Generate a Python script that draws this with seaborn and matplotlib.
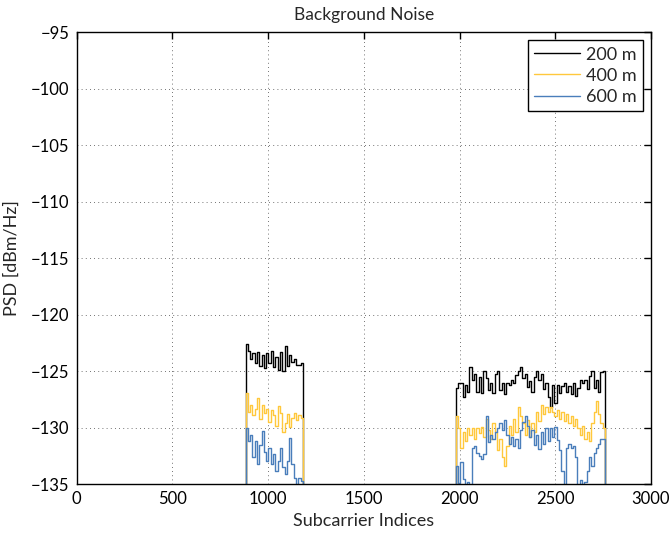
import numpy as np
import pandas as pd
import matplotlib
matplotlib.use("Agg")
import matplotlib.pyplot as plt
import seaborn as sns

# Subcarrier bands (start index, step between plotted PSD bins)
band_starts = [882, 1980]
step = 12
floor_db = -150.0

labels = ["200 m", "400 m", "600 m"]
colors = ["#000000", "#FFC83C", "#4A7EBB"]

# PSD [dBm/Hz] per bin
psd_200_band1 = [-122.6, -123.2, -123.9, -123.4, -124.3, -123.3, -124.5, -123.6, -124.7,
                 -123.4, -124.3, -123.2, -124.6, -123.7, -124.9, -123.3, -125.0, -122.8,
                 -124.5, -123.6, -124.2, -123.9, -124.4, -124.4, -124.3]
psd_400_band1 = [-126.9, -128.6, -128.0, -128.9, -128.3, -127.4, -129.2, -128.0, -128.7,
                 -128.3, -129.5, -128.4, -128.9, -129.8, -128.1, -128.7, -130.4, -129.6,
                 -128.8, -129.9, -129.1, -128.7, -129.3, -128.9, -129.1]
psd_600_band1 = [-130.0, -131.2, -130.6, -132.6, -131.2, -133.2, -131.5, -130.3, -132.1,
                 -132.9, -131.8, -133.2, -132.3, -133.8, -132.9, -131.8, -133.5, -134.1,
                 -132.9, -130.9, -133.2, -134.4, -135.5, -134.4, -134.7]

psd_200_band2 = [-126.5, -126.0, -126.0, -127.3, -126.2, -126.8, -124.6, -125.8, -125.2,
                 -126.8, -125.5, -126.9, -125.0, -125.6, -126.7, -126.0, -126.9, -125.2,
                 -125.0, -126.7, -126.0, -127.0, -126.0, -126.2, -125.8, -126.0, -125.3,
                 -125.0, -124.6, -125.6, -125.2, -126.4, -125.9, -126.8, -125.5, -125.0,
                 -125.8, -125.2, -126.6, -126.0, -127.3, -128.2, -126.2, -127.8, -126.2,
                 -126.9, -126.3, -126.0, -126.8, -126.3, -127.0, -126.0, -127.2, -126.5,
                 -125.8, -126.0, -125.8, -126.6, -125.4, -125.0, -126.5, -125.8, -126.8,
                 -125.1, -125.0]
psd_400_band2 = [-129.0, -130.0, -131.8, -130.4, -131.2, -130.0, -130.6, -130.0, -131.0,
                 -130.0, -130.5, -129.9, -130.8, -129.2, -130.2, -131.0, -129.6, -130.4,
                 -132.0, -131.0, -132.6, -133.4, -131.6, -129.8, -130.6, -129.2, -130.4,
                 -128.2, -129.0, -129.6, -130.6, -129.3, -130.8, -129.6, -130.4, -128.6,
                 -129.4, -128.0, -128.8, -128.2, -128.6, -128.2, -128.6, -129.0, -128.4,
                 -129.2, -128.6, -129.4, -128.8, -129.6, -129.0, -129.8, -129.2, -130.0,
                 -130.6, -129.8, -131.0, -130.4, -131.2, -129.6, -128.6, -127.6, -128.8,
                 -129.6, -130.0]
psd_600_band2 = [-133.4, -134.9, -133.0, -134.5, -135.5, -134.8, -135.5, -131.8, -131.6,
                 -132.2, -132.5, -132.8, -132.3, -129.0, -131.3, -130.6, -131.0, -130.4,
                 -130.0, -129.6, -130.2, -129.3, -130.6, -131.4, -130.8, -131.6, -131.0,
                 -131.8, -130.2, -129.5, -129.0, -129.8, -130.8, -130.2, -131.5, -130.6,
                 -131.9, -130.4, -131.4, -130.0, -131.2, -130.0, -130.8, -129.9, -131.1,
                 -132.0, -133.8, -135.5, -131.8, -131.4, -131.8, -131.6, -132.6, -135.5,
                 -134.6, -135.5, -134.8, -133.8, -132.6, -133.4, -132.2, -131.8, -131.4,
                 -131.0, -131.0]

series = {
    "200 m": [psd_200_band1, psd_200_band2],
    "400 m": [psd_400_band1, psd_400_band2],
    "600 m": [psd_600_band1, psd_600_band2],
}


def build_trace(bands):
    # out-of-band bins sit far below the axis so the edges drop off the plot
    xs, ys = [0], [floor_db]
    for start, vals in zip(band_starts, bands):
        xs += list(start + step * np.arange(len(vals) + 1))
        ys += list(vals) + [floor_db]
    xs.append(3000)
    ys.append(floor_db)
    return xs, ys


rows = []
for name in labels:
    xs, ys = build_trace(series[name])
    rows += [{"subcarrier": x, "psd": y, "distance": name} for x, y in zip(xs, ys)]
df = pd.DataFrame(rows)

sns.set_style("white")
plt.rcParams["font.family"] = ["Lato", "DejaVu Sans"]

fig = plt.figure(figsize=(6.69, 5.34), dpi=100)
ax = fig.add_axes([0.1146, 0.0931, 0.8584, 0.8464])

sns.lineplot(
    data=df, x="subcarrier", y="psd", hue="distance",
    hue_order=labels, palette=colors, estimator=None, sort=False,
    drawstyle="steps-post", linewidth=1.0, ax=ax,
)

ax.set_xlim(0, 3000)
ax.set_ylim(-135, -95)
ax.set_xticks(np.arange(0, 3001, 500))
ax.set_yticks(np.arange(-135, -94, 5))
ax.set_xticklabels([str(v) for v in range(0, 3001, 500)])
ax.set_yticklabels(["\u2212" + str(abs(v)) for v in range(-135, -94, 5)])
ax.grid(True, color="#444444", linestyle=(0, (1, 4)), linewidth=0.6)
ax.tick_params(direction="in", length=5, width=1, top=True, right=True,
               labelsize=12, colors="black", pad=5)
for s in ax.spines.values():
    s.set_visible(True)
    s.set_color("black")
    s.set_linewidth(1.0)

ax.set_title("Background Noise", fontsize=12.5, pad=9)
ax.set_xlabel("Subcarrier Indices", fontsize=13, labelpad=4)
ax.set_ylabel("PSD [dBm/Hz]", fontsize=13, labelpad=8)

leg = ax.legend(loc="upper right", fontsize=13, frameon=True, fancybox=False,
                edgecolor="black", framealpha=1, handlelength=2.5,
                borderaxespad=0.45, labelspacing=0.28, borderpad=0.35,
                handletextpad=0.35)
leg.get_frame().set_linewidth(1.0)
leg.set_title(None)

fig.savefig("out.png", dpi=100)
